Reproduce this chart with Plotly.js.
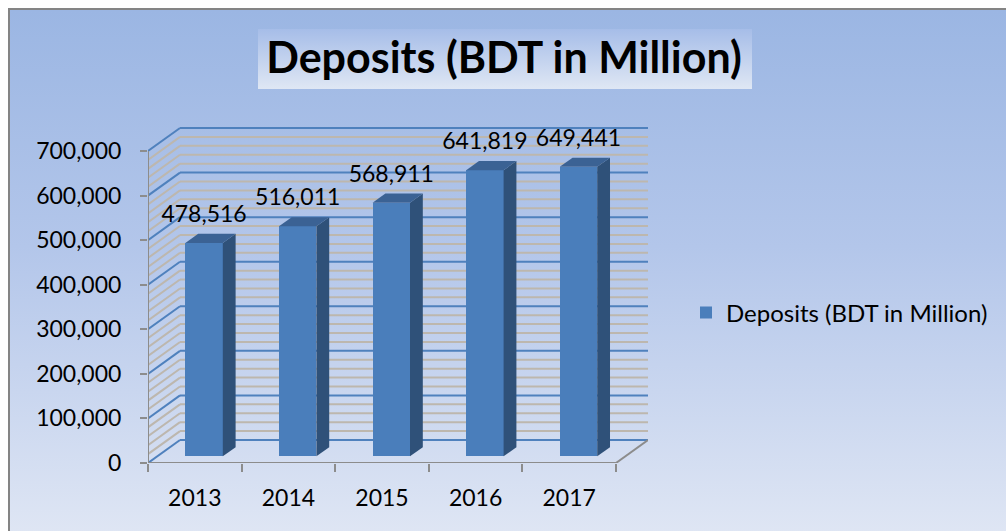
<!DOCTYPE html>
<html>
<head>
<meta charset="utf-8">
<script src="https://cdn.plot.ly/plotly-3.0.1.min.js"></script>
<style>
  html, body { margin:0; padding:0; background:#ffffff; width:1006px; height:531px; overflow:hidden; }
  #frame { position:absolute; left:8px; top:8px; width:1010px; height:530px;
           border:2px solid #848484; box-sizing:border-box;
           background:linear-gradient(to bottom, #9bb6e3 0%, #b3c6ea 45%, #dfe6f4 100%); }
  #titlebox { position:absolute; left:258px; top:29px; width:494px; height:60px;
              background:linear-gradient(to bottom, #a6bde8 0%, #dfe7f4 100%); }
  #plot { position:absolute; left:0; top:0; width:1006px; height:531px; }
</style>
</head>
<body>
<div id="frame"></div>
<div id="titlebox"></div>
<div id="plot"></div>
<script>
// ---- data ----
const years = ['2013', '2014', '2015', '2016', '2017'];
const deposits = [478516, 516011, 568911, 641819, 649441];
const yTickVals = [0, 100000, 200000, 300000, 400000, 500000, 600000, 700000];
const seriesName = 'Deposits (BDT in Million)';
const chartTitle = 'Deposits (BDT in Million)';

// ---- pseudo-3D geometry (in axis units) ----
const DX = 0.342;     // depth shift along x
const DY = 51600;     // depth shift along y
const F0 = 0.29, F1 = 0.69;  // bar front/back depth fractions
const HW = 0.2;       // bar half width
const LBL = 60000;    // label offset above bar
const YMAX = 700000, MINOR = 20000;

const fmt = v => v.toLocaleString('en-US');
const idx = years.map((_, i) => i);

const shapes = [];
const blue = '#4f81bd', gray = '#bdb7ae', axisGray = '#8c8c8c';
for (let v = 0; v <= YMAX; v += MINOR) {
  const major = v % 100000 === 0;
  const col = major ? blue : gray;
  shapes.push({type:'line', xref:'x', yref:'y', layer:'below',
    x0:-0.5 + DX, x1:4.5 + DX, y0:v + DY, y1:v + DY, line:{color:col, width:2}});
  shapes.push({type:'line', xref:'x', yref:'y', layer:'below',
    x0:-0.5, x1:-0.5 + DX, y0:v, y1:v + DY, line:{color:col, width:2}});
}
// floor right edge and axes lines
shapes.push({type:'line', xref:'x', yref:'y', layer:'below',
  x0:4.5, x1:4.5 + DX, y0:0, y1:DY, line:{color:axisGray, width:2}});
shapes.push({type:'line', xref:'x', yref:'y', layer:'above',
  x0:-0.5, x1:4.5, y0:0, y1:0, line:{color:axisGray, width:2}});
shapes.push({type:'line', xref:'x', yref:'y', layer:'above',
  x0:-0.5, x1:-0.5, y0:0, y1:YMAX, line:{color:axisGray, width:2}});

const traces = [];
traces.push({
  type:'bar', name:seriesName,
  x: idx.map(i => i + F0 * DX), y: deposits, base: F0 * DY, width: 2 * HW,
  marker:{color:'#4a7ebb', line:{width:0}}, hoverinfo:'skip'
});

const ddx = (F1 - F0) * DX, ddy = (F1 - F0) * DY;
deposits.forEach((v, i) => {
  const xl = i - HW + F0 * DX, xr = i + HW + F0 * DX;
  const y0 = F0 * DY, yt = y0 + v;
  traces.push({type:'scatter', mode:'lines', fill:'toself', showlegend:false, hoverinfo:'skip',
    x:[xr, xr + ddx, xr + ddx, xr, xr], y:[y0, y0 + ddy, yt + ddy, yt, y0],
    line:{width:0, color:'#2f5179'}, fillcolor:'#2f5179'});
  traces.push({type:'scatter', mode:'lines', fill:'toself', showlegend:false, hoverinfo:'skip',
    x:[xl, xr, xr + ddx, xl + ddx, xl], y:[yt, yt, yt + ddy, yt + ddy, yt],
    line:{width:0, color:'#3b6294'}, fillcolor:'#3b6294'});
});

traces.push({
  type:'scatter', mode:'text', showlegend:false, hoverinfo:'skip', cliponaxis:false,
  x: idx.map(i => i + F0 * DX), y: deposits.map(v => F0 * DY + v + LBL),
  text: deposits.map(fmt), textposition:'middle center',
  textfont:{family:'Lato, sans-serif', size:23, color:'#000000'}
});

const layout = {
  width:1006, height:531,
  margin:{l:148, r:358, t:127, b:68, pad:0},
  paper_bgcolor:'rgba(0,0,0,0)', plot_bgcolor:'rgba(0,0,0,0)',
  font:{family:'Lato, sans-serif', color:'#000000'},
  title:{text:chartTitle, xref:'container', yref:'container', x:0.501, xanchor:'center',
         y:1 - 58/531, yanchor:'middle',
         font:{family:'Lato, sans-serif', size:43, weight:'bold', color:'#000000'}},
  xaxis:{range:[-0.5, -0.5 + 500/93.6], tickmode:'array', tickvals:idx, ticktext:years,
         ticks:'', showgrid:false, zeroline:false, showline:false, fixedrange:true,
         ticklabelstandoff:19, tickfont:{family:'Lato, sans-serif', size:23, color:'#000000'},
         minor:{tickmode:'linear', tick0:-0.5, dtick:1, ticks:'outside', ticklen:8,
                tickwidth:2, tickcolor:axisGray, showgrid:false}},
  yaxis:{range:[0, YMAX * 336 / 312], tickmode:'array', tickvals:yTickVals,
         ticktext:yTickVals.map(fmt), ticks:'outside', ticklen:7, tickwidth:2, tickcolor:axisGray,
         showgrid:false, zeroline:false, showline:false, fixedrange:true,
         ticklabelstandoff:14, tickfont:{family:'Lato, sans-serif', size:23, color:'#000000'}},
  showlegend:true,
  legend:{x:(686 - 148) / 500, xanchor:'left', y:(463 - 313) / 336, yanchor:'middle',
          bgcolor:'rgba(0,0,0,0)', font:{family:'Lato, sans-serif', size:24, color:'#000000'}},
  shapes:shapes,
  bargap:0
};

Plotly.newPlot('plot', traces, layout, {displayModeBar:false, staticPlot:true});
</script>
</body>
</html>
